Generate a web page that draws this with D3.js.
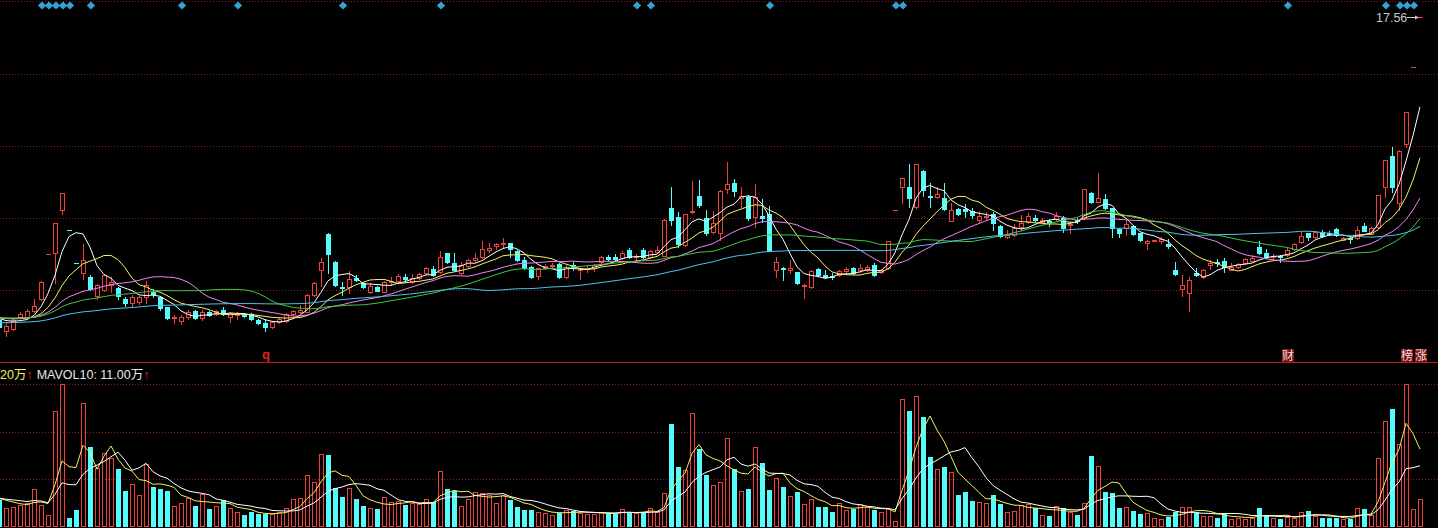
<!DOCTYPE html>
<html><head><meta charset="utf-8">
<script src="https://cdn.jsdelivr.net/npm/d3@7"></script>
<style>html,body{margin:0;padding:0;background:#000;overflow:hidden}</style>
</head><body>
<svg id="c" width="1438" height="528" style="display:block;background:#000"></svg>
<script>
// ---------------- DATA ----------------
const opens = [7.86,7.52,7.59,7.95,7.97,8.15,8.55,9.98,10.02,11.38,
10.73,9.68,9.37,9.25,8.63,8.82,8.98,8.90,8.54,8.40,
8.45,8.59,8.75,8.61,8.27,7.92,7.84,7.95,8.15,7.92,
8.11,8.06,8.18,7.97,8.02,8.06,8.05,7.87,7.76,7.65,
7.81,7.83,8.06,8.13,8.13,8.66,9.45,10.62,9.72,8.93,
8.93,9.22,9.04,8.77,8.91,8.77,9.09,9.11,9.23,9.09,
9.22,9.36,9.49,9.41,10.00,9.68,9.37,9.59,9.78,9.87,
10.10,10.23,10.29,10.32,10.07,9.78,9.55,9.27,9.54,9.59,
9.66,9.23,9.61,9.46,9.50,9.52,9.72,9.87,9.87,9.84,
10.10,9.87,10.10,9.89,10.05,9.91,11.44,11.17,10.26,11.31,
11.83,11.12,10.69,10.64,12.05,12.24,11.77,11.81,11.17,11.19,
11.25,9.45,9.54,9.46,9.39,8.95,8.93,9.50,9.30,9.27,
9.30,9.44,9.52,9.46,9.46,9.62,9.41,9.52,11.40,12.11,
12.11,11.47,12.63,11.84,11.81,11.78,11.04,11.42,11.41,11.36,
11.06,11.16,11.25,10.87,10.53,10.58,10.83,11.01,11.14,11.01,
11.04,11.09,11.14,10.89,11.06,11.12,11.92,11.65,11.73,11.44,
10.78,10.80,10.87,10.64,10.33,10.39,10.40,10.29,9.46,8.85,
8.72,9.36,9.25,9.62,9.73,9.75,9.46,9.55,9.68,9.76,
10.21,10.02,9.87,9.90,9.94,10.13,10.37,10.64,10.53,10.69,
10.66,10.77,10.42,10.49,10.49,10.88,10.62,10.83,12.13,13.11,
11.60,13.49,15.96,17.56];
const highs = [7.93,7.81,7.90,8.13,8.21,8.53,9.10,9.98,10.98,11.92,
10.73,9.68,10.29,9.30,9.02,9.34,9.25,8.92,8.61,8.65,
8.63,9.11,8.86,8.63,8.28,8.02,8.02,8.18,8.18,8.19,
8.15,8.19,8.29,8.12,8.12,8.10,8.09,7.91,7.85,7.83,
7.96,8.09,8.20,8.34,8.70,9.08,9.84,10.65,9.75,9.09,
9.43,9.30,9.08,9.04,8.95,9.11,9.23,9.34,9.35,9.35,
9.38,9.56,9.59,10.07,10.02,10.00,9.72,9.82,10.00,10.39,
10.34,10.33,10.48,10.34,10.10,9.87,9.58,9.54,9.66,9.69,
9.69,9.61,9.73,9.50,9.59,9.66,9.91,9.94,9.96,10.08,
10.16,9.98,10.16,10.10,10.24,11.10,12.11,11.33,11.27,12.31,
12.34,11.38,11.35,12.02,12.91,12.37,12.12,11.85,12.21,11.72,
11.52,9.89,9.56,9.78,9.41,9.02,9.46,9.54,9.46,9.36,
9.46,9.55,9.56,9.66,9.61,9.69,9.51,10.40,11.40,12.42,
12.86,12.87,12.66,12.24,12.11,12.24,11.62,11.45,11.58,11.44,
11.35,11.33,11.33,10.90,10.74,10.94,11.22,11.28,11.22,11.12,
11.10,11.33,11.19,11.00,11.13,12.07,11.96,12.56,11.90,11.46,
10.81,11.06,10.90,10.66,10.42,10.42,10.52,10.46,9.73,9.29,
9.25,9.52,9.48,9.78,9.82,9.84,9.68,9.69,9.86,9.94,
10.39,10.13,9.98,9.94,10.17,10.33,10.69,10.66,10.71,10.73,
10.71,10.81,10.52,10.53,10.86,10.98,10.84,11.87,12.99,13.39,
13.29,14.51,15.96,17.56];
const lows = [7.61,7.36,7.56,7.93,7.94,8.12,8.52,9.98,9.04,11.25,
10.73,9.68,9.17,8.84,8.54,8.79,8.75,8.55,8.32,8.32,
8.38,8.40,8.61,8.18,7.89,7.78,7.73,7.90,7.90,7.86,
7.99,8.02,8.02,7.79,7.89,7.96,7.88,7.75,7.52,7.62,
7.77,7.80,8.02,8.09,8.12,8.63,8.96,9.36,8.95,8.66,
8.74,9.11,8.89,8.74,8.78,8.76,8.98,9.08,9.09,9.06,
9.19,9.34,9.27,9.38,9.68,9.43,9.35,9.56,9.75,9.85,
10.05,10.14,10.16,9.87,9.75,9.51,9.22,9.18,9.49,9.56,
9.21,9.21,9.46,9.18,9.41,9.44,9.69,9.75,9.75,9.82,
9.85,9.78,9.86,9.86,10.00,9.90,10.90,10.21,10.23,11.30,
11.49,10.58,10.64,10.42,11.92,11.84,11.49,11.06,10.83,11.01,
10.06,9.25,9.14,9.37,9.02,8.58,8.90,9.27,9.20,9.17,
9.27,9.34,9.34,9.41,9.43,9.27,9.37,9.50,11.40,11.60,
11.49,11.45,11.83,11.47,11.76,11.38,11.02,11.22,11.17,11.14,
11.01,11.06,10.74,10.51,10.50,10.55,10.74,10.98,11.03,10.97,
10.87,11.06,10.69,10.66,10.97,11.10,11.61,11.64,11.42,10.53,
10.53,10.58,10.58,10.39,10.13,10.38,10.33,10.17,9.30,8.63,
8.16,9.27,9.22,9.49,9.59,9.41,9.45,9.53,9.66,9.74,
9.99,9.86,9.78,9.73,9.91,10.10,10.34,10.42,10.50,10.52,
10.57,10.55,10.41,10.33,10.45,10.70,10.60,10.81,11.81,11.97,
11.38,13.39,15.96,17.56];
const closes = [7.65,7.68,7.86,8.05,8.15,8.31,9.07,9.98,10.98,11.92,
10.73,9.68,9.78,8.86,8.98,9.30,9.09,8.63,8.42,8.59,
8.61,8.98,8.70,8.24,7.92,7.97,7.95,8.12,7.92,8.13,
8.02,8.15,8.06,8.08,8.07,7.99,7.90,7.78,7.63,7.81,
7.89,8.05,8.15,8.18,8.66,9.04,9.73,9.97,8.98,8.88,
9.19,9.14,8.91,8.95,8.80,9.08,9.12,9.27,9.18,9.22,
9.35,9.52,9.30,9.87,9.72,9.46,9.61,9.77,9.84,10.13,
10.18,10.29,10.32,10.13,9.78,9.54,9.25,9.52,9.59,9.61,
9.23,9.57,9.57,9.48,9.53,9.62,9.87,9.83,9.83,10.00,
9.87,9.91,9.89,10.07,10.10,11.06,11.06,10.30,11.25,11.35,
11.54,10.66,10.97,12.00,12.22,12.00,11.83,11.12,11.81,11.14,
10.07,9.71,9.50,9.52,9.04,8.98,9.43,9.30,9.25,9.23,
9.43,9.49,9.36,9.52,9.57,9.30,9.46,10.38,11.40,12.40,
11.76,12.86,12.02,11.81,11.90,11.42,11.38,11.25,11.36,11.22,
11.19,11.19,10.98,10.55,10.58,10.80,10.98,11.19,11.06,11.06,
10.98,11.19,10.80,10.94,11.02,12.05,11.63,11.76,11.44,10.80,
10.66,10.95,10.62,10.42,10.39,10.41,10.46,10.24,9.33,8.97,
9.14,9.30,9.46,9.68,9.68,9.55,9.55,9.66,9.82,9.86,
10.02,9.89,9.91,9.87,10.10,10.29,10.55,10.51,10.67,10.55,
10.62,10.58,10.49,10.46,10.74,10.72,10.82,11.85,12.97,12.13,
13.27,14.51,15.96,17.56];
const volumes = [26.5,18.2,19.8,21.5,23.2,37.2,21.5,11.5,115.5,142.2,
8.8,16.5,123.2,79.8,58.2,73.2,68.2,57.5,35.5,42.2,
31.5,62.5,39.5,37.5,35.5,20.5,23.8,28.2,20.5,32.2,
17.5,20.5,26.2,18.2,14.2,11.5,14.8,12.5,12.8,12.2,
14.2,18.2,27.2,28.2,51.5,44.2,72.2,71.5,38.8,29.2,
38.2,27.5,20.5,18.2,17.2,29.2,24.8,25.5,21.5,23.8,
22.2,27.2,24.8,55.5,37.5,35.5,20.5,27.5,34.2,33.2,
31.5,23.2,31.2,26.5,19.8,16.5,16.5,14.2,13.2,11.5,
13.8,16.5,15.5,13.8,12.5,12.5,14.2,13.2,12.2,17.2,
14.2,13.2,14.8,18.2,14.8,33.2,102.5,59.8,56.5,113.2,
77.5,51.5,41.5,44.2,88.2,57.2,35.5,37.5,79.2,63.2,
36.5,48.2,39.5,30.5,34.5,22.5,27.5,19.8,19.8,14.5,
23.2,16.5,17.2,22.2,19.2,16.5,14.2,17.2,5.5,127.2,
115.5,130.5,109.8,69.2,57.5,59.2,54.2,31.5,34.2,25.5,
24.2,23.2,31.5,22.5,14.2,15.5,21.5,22.2,18.8,11.5,
10.5,20.5,18.8,14.8,11.5,23.8,70.5,60.5,34.2,33.2,
18.8,19.8,15.5,12.5,13.8,8.8,7.5,9.8,14.8,19.8,
19.8,14.8,10.8,10.8,8.8,13.2,7.5,8.8,7.5,8.2,
18.8,11.5,8.8,7.5,9.8,8.8,14.5,15.5,10.5,8.8,
8.8,8.8,7.5,7.5,18.2,17.5,11.5,68.2,105.5,117.5,
82.5,142.2,17.2,27.2];
// closes and volumes before the visible window (needed to start the moving averages)
const priorCloses = [7.55,7.58,7.60,7.57,7.62,7.66,7.63,7.60,7.58,7.61,
7.64,7.67,7.65,7.62,7.60,7.63,7.66,7.64,7.61,7.59,
7.62,7.65,7.68,7.66,7.63,7.60,7.62,7.65,7.67,7.70,
7.78,7.84,7.88,7.92,7.95,7.93,7.90,7.94,7.97,7.95,
7.92,7.90,7.93,7.96,7.94,7.91,7.93,7.95,7.92,7.94,
7.96,7.99,7.97,7.95,7.98,8.00,7.98,7.96,7.97];
const priorVolumes = [30,27,29,31,28,26,29,30,28];
const maPeriods = [5,10,20,30,60];
const maColors = ["#ffffff","#f2f26a","#ee84ee","#3cc83c","#4cc2ea"];
const volMaPeriods = [5,10];
const volMaColors = ["#f0f060","#ffffff"];
const signalDays = [6,7,8,9,10,13,26,34,49,63,91,93,110,128,129,184,198,200,201,202];
const eventDays = [38,184,201,203];
const eventTexts = ["q","财","榜","涨"];
const lastPriceText = "17.56";
const volLegendTexts = ["20万","↑","MAVOL10: 11.00万","↑"];

// ---------------- CHART ----------------
const W = 1438, H = 528, N = closes.length;
const svg = d3.select("#c");
const x = d3.scaleLinear().domain([0, N-1]).range([-1, 1420]);
const y = d3.scaleLinear().domain([6.504, 18.104]).range([362.5, 0]);
const vy = d3.scaleLinear().domain([0, 161.5]).range([526.5, 365]);
const UP = "#f0403c", DOWN = "#54fcfc", GRID = "#8a1c1c";
const up = i => closes[i] > opens[i] || (closes[i] === opens[i] && (i === 0 || closes[i] >= closes[i-1]));
const px = v => Math.round(v) + 0.5;

// grid lines price panel
const gridG = svg.append("g").attr("shape-rendering","crispEdges");
d3.range(5).forEach(k => {
  const gy = px(1.3 + k * 72.24);
  gridG.append("line").attr("x1",0).attr("x2",W).attr("y1",gy).attr("y2",gy)
    .attr("stroke",GRID).attr("stroke-dasharray","1,2");
});
// volume grid lines at thirds of max volume
const vmax = d3.max(volumes);
[1,2,3].forEach(k => {
  const gy = px(vy(vmax*k/3));
  gridG.append("line").attr("x1",0).attr("x2",W).attr("y1",gy).attr("y2",gy)
    .attr("stroke",GRID).attr("stroke-dasharray","1,2");
});
// separator
svg.append("line").attr("x1",0).attr("x2",W).attr("y1",362.5).attr("y2",362.5)
  .attr("stroke","#b42020").attr("shape-rendering","crispEdges");

// candles
const cg = svg.append("g").attr("shape-rendering","crispEdges");
for (let i = 0; i < N; i++) {
  const X = Math.round(x(i));
  const col = up(i) ? UP : DOWN;
  const yo = y(opens[i]), yc = y(closes[i]), yh = y(highs[i]), yl = y(lows[i]);
  const top = Math.round(Math.min(yo,yc)), bot = Math.round(Math.max(yo,yc));
  if (Math.round(yh) < Math.round(yl))
    cg.append("line").attr("x1",X+0.5).attr("x2",X+0.5).attr("y1",Math.round(yh)).attr("y2",Math.round(yl)+1).attr("stroke",col);
  if (bot - top < 1) {
    cg.append("line").attr("x1",X-2).attr("x2",X+3).attr("y1",top+0.5).attr("y2",top+0.5).attr("stroke",col);
  } else if (up(i)) {
    cg.append("rect").attr("x",X-1.5).attr("y",top+0.5).attr("width",4).attr("height",bot-top)
      .attr("fill","#000").attr("stroke",col);
  } else {
    cg.append("rect").attr("x",X-2).attr("y",top).attr("width",5).attr("height",bot-top+1).attr("fill",col);
  }
}

// moving averages
function movingAvg(prior, data, p) {
  const all = prior.concat(data), off = prior.length;
  return data.map((_, i) => d3.mean(all.slice(Math.max(0, i+off-p+1), i+off+1)));
}
const line = d3.line().x((d,i) => x(i)).y(d => d).curve(d3.curveLinear);
const mg = svg.append("g").attr("fill","none");
maPeriods.forEach((p, k) => {
  const ma = movingAvg(priorCloses, closes, p).map(v => y(v));
  mg.append("path").attr("d", line(ma)).attr("stroke", maColors[k]).attr("stroke-width",1);
});

// signal diamonds
svg.append("g").selectAll("path").data(signalDays).join("path")
  .attr("d", d3.symbol(d3.symbolSquare, 34))
  .attr("transform", d => `translate(${Math.round(x(d))+1},5.5) rotate(45)`)
  .attr("fill","#34a2d8");

// last price label
svg.append("text").attr("x",1376).attr("y",21.5).text(lastPriceText)
  .attr("fill","#c8c8c8").attr("font-size",12.5).attr("font-family","'Liberation Sans',Arial,sans-serif");
svg.append("line").attr("x1",1407).attr("x2",1418).attr("y1",17.5).attr("y2",17.5).attr("stroke","#c8c8c8");
svg.append("path").attr("d","M1415,15.5 L1419,17.5 L1415,19.5 Z").attr("fill","#c8c8c8");

// event labels
eventDays.forEach((d, k) => {
  const cx = Math.round(x(d)) + 1;
  if (eventTexts[k] === "q") {
    svg.append("text").attr("x",cx).attr("y",359).attr("text-anchor","middle").text(eventTexts[k])
      .attr("fill","#e02020").attr("font-size",13).attr("font-weight","bold")
      .attr("font-family","'Liberation Sans',Arial,sans-serif");
  } else {
    svg.append("rect").attr("x",cx-6).attr("y",349).attr("width",12).attr("height",13).attr("fill","#7a1212");
    svg.append("text").attr("x",cx).attr("y",360).attr("text-anchor","middle").text(eventTexts[k])
      .attr("fill","#f4dede").attr("font-size",12).attr("font-family","'Noto Sans CJK SC',sans-serif");
  }
});

// volume bars
const vg = svg.append("g").attr("shape-rendering","crispEdges");
for (let i = 0; i < N; i++) {
  const X = Math.round(x(i));
  const t = Math.round(vy(volumes[i]));
  if (up(i)) {
    vg.append("rect").attr("x",X-1.5).attr("y",t+0.5).attr("width",4).attr("height",Math.max(0,526-t))
      .attr("fill","none").attr("stroke",UP);
  } else {
    vg.append("rect").attr("x",X-2).attr("y",t).attr("width",5).attr("height",Math.max(1,527-t)).attr("fill",DOWN);
  }
}
volMaPeriods.forEach((p, k) => {
  const ma = movingAvg(priorVolumes, volumes, p).map(v => vy(v));
  svg.append("path").attr("d", line(ma)).attr("fill","none").attr("stroke", volMaColors[k]).attr("stroke-width",1);
});

// volume legend
const lg = svg.append("text").attr("x",0).attr("y",379).attr("font-size",12.5)
  .attr("font-family","'Liberation Sans','Noto Sans CJK SC',sans-serif");
const legCols = ["#f0f060","#e03030","#e8e8e8","#e03030"];
volLegendTexts.forEach((t, k) => {
  lg.append("tspan").text(t).attr("fill", legCols[k]).attr("dx", k === 2 ? 4 : 0);
});
</script>
</body></html>
